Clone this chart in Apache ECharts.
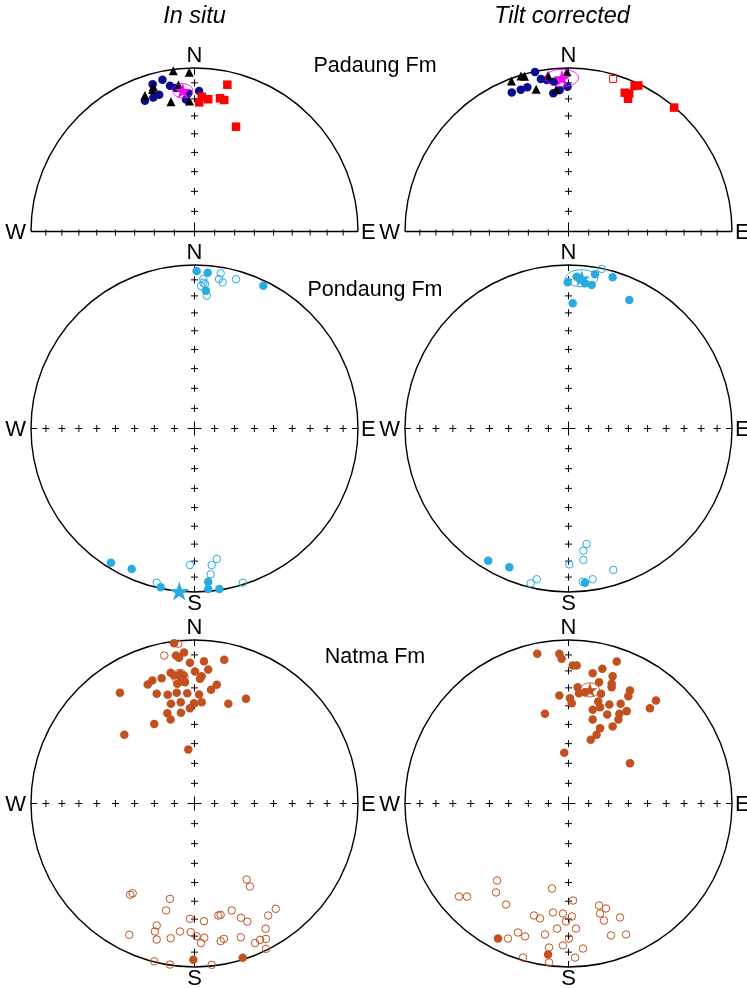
<!DOCTYPE html>
<html>
<head>
<meta charset="utf-8">
<script src="https://cdn.jsdelivr.net/npm/echarts@6/dist/echarts.min.js"></script>
<style>
html,body{margin:0;padding:0;background:#fff;}
#chart{width:747px;height:988px;}
</style>
</head>
<body>
<div id="chart"></div>
<script>
// ---------- DATA (equal-area projection coordinates, % of primitive radius; x = East, y = North) ----------
const tickInclinations = [10, 20, 30, 40, 50, 60, 70, 80];
const columnTitles = ['In situ', 'Tilt corrected'];
const formationNames = ['Padaung Fm', 'Pondaung Fm', 'Natma Fm'];

// Padaung Fm - in situ
const padaungInSituCircles = [[-19.6,92.8],[-25.6,90.1],[-15.0,89.1],[-21.6,83.7],[-25.2,82.0],[-30.3,79.9],[-3.8,84.5],[2.8,85.9],[-5.2,80.7],[-11.3,87.8]];
const padaungInSituTriangles = [[-13.0,98.3],[-3.2,97.4],[-25.2,88.7],[-25.6,86.9],[-30.3,83.2],[-14.4,79.4],[-3.1,79.8],[-9.8,89.6]];
const padaungInSituSquares = [[20.1,89.8],[4.4,82.4],[2.9,79.0],[8.4,80.9],[15.6,81.5],[18.2,80.4],[25.4,64.1]];
const padaungInSituMean = [[-7.2,86.1,6.1,4.3]];

// Padaung Fm - tilt corrected
const padaungTiltCircles = [[-20.5,97.6],[-34.7,85.0],[-29.2,86.7],[-25.2,88.2],[-16.9,93.2],[-13.3,92.7],[-8.9,91.6],[-5.4,86.5],[-9.3,84.5],[-0.6,88.6]];
const padaungTiltTriangles = [[-34.9,92.0],[-29.1,95.1],[-26.9,94.9],[-19.8,87.0],[-12.5,95.4],[-7.6,86.7],[-0.9,97.7]];
const padaungTiltSquares = [[40.4,89.0],[42.7,89.3],[34.4,84.9],[37.1,84.3],[36.4,81.2],[64.6,75.8]];
const padaungTiltOpenSquares = [[27.3,93.3]];
const padaungTiltMean = [[-4.0,93.9,10.1,5.3]];

// Pondaung Fm - in situ
const pondaungInSituFilled = [[1.3,96.3],[8.1,95.3],[42.1,87.3],[7.0,84.3],[-51.1,-82.1],[-38.4,-85.9],[-20.7,-97.1],[8.4,-93.7],[8.4,-98.2],[15.2,-98.2]];
const pondaungInSituOpen = [[16.0,94.9],[15.0,91.4],[17.2,89.4],[25.4,91.3],[5.4,91.4],[5.4,89.2],[4.0,87.2],[6.4,88.4],[7.5,81.2],[-2.8,-83.5],[13.6,-79.8],[10.5,-83.5],[9.9,-89.2],[-23.1,-94.3],[29.5,-94.3]];
const pondaungInSituMean = [[-9.3,-99.4]];

// Pondaung Fm - tilt corrected
const pondaungTiltFilled = [[-0.5,89.4],[16.2,94.3],[27.0,92.5],[37.2,78.6],[2.6,76.6],[14.2,87.8],[5.0,92.8],[10.1,88.8],[7.0,91.4],[-49.1,-80.9],[-36.2,-84.9],[10.1,-94.3]];
const pondaungTiltOpen = [[20.3,97.6],[11.1,-70.6],[9.1,-74.7],[9.1,-80.4],[0.5,-83.1],[27.4,-86.5],[14.8,-92.2],[8.7,-93.7],[-19.4,-92.2],[-23.1,-94.7]];
const pondaungTiltMean = [[8.1,91.9,9.8,5.2]];

// Natma Fm - in situ
const natmaInSituFilled = [[-12.5,98.0],[-6.4,92.4],[-11.3,90.5],[-9.5,89.1],[-2.8,86.1],[5.8,87.0],[18.2,87.9],[0.3,80.7],[8.4,82.0],[4.4,77.9],[3.4,76.3],[-14.6,79.9],[-12.5,78.3],[-8.9,79.3],[-6.9,78.3],[-20.1,76.6],[-25.8,75.2],[-28.6,72.8],[-5.8,74.2],[-10.5,73.2],[13.6,72.6],[10.1,69.5],[-45.6,67.7],[-23.1,67.1],[-16.4,66.5],[-10.9,67.7],[-4.4,67.5],[2.8,66.7],[-0.3,61.3],[4.4,62.0],[-8.4,62.0],[-14.4,61.0],[20.7,61.0],[31.5,64.0],[-2.8,58.3],[-16.6,55.2],[-8.3,55.5],[-14.6,51.4],[-24.6,48.7],[-42.9,42.0],[-3.8,33.0],[-0.7,-95.6],[29.5,-94.4]];
const natmaInSituOpen = [[-9.9,97.7],[-18.5,90.5],[-39.4,-55.8],[-37.8,-54.9],[-15.0,-58.3],[-17.4,-65.4],[31.9,-46.5],[33.9,-50.8],[14.6,-68.5],[16.0,-68.1],[22.8,-65.4],[28.4,-69.9],[32.3,-72.2],[49.7,-64.4],[45.1,-68.5],[-2.8,-70.5],[5.8,-72.0],[-23.1,-74.6],[-24.2,-78.3],[-39.9,-80.3],[-23.1,-83.2],[-14.6,-82.4],[-8.9,-78.3],[-2.3,-78.7],[1.3,-81.2],[6.0,-82.1],[4.0,-85.4],[16.0,-84.2],[18.0,-82.8],[28.3,-81.8],[43.5,-76.6],[43.7,-82.8],[40.1,-83.4],[37.0,-85.4],[43.7,-88.9],[-24.6,-96.5],[-15.0,-98.5],[10.5,-98.7]];
const natmaInSituMean = [[-8.9,77.2,4.9,4.9]];

// Natma Fm - tilt corrected
const natmaTiltFilled = [[-19.1,91.6],[-5.6,91.6],[-4.2,88.5],[2.6,84.4],[5.0,84.4],[29.5,86.9],[20.7,82.4],[14.8,79.7],[27.0,77.9],[26.4,73.2],[26.4,71.1],[18.7,74.2],[5.6,71.1],[10.1,68.1],[6.4,67.5],[19.9,67.1],[37.6,69.1],[36.6,65.6],[-5.6,66.1],[0.9,64.4],[2.0,61.3],[18.2,62.4],[19.3,58.9],[25.0,60.6],[31.9,61.0],[53.5,63.0],[49.8,58.3],[35.6,56.5],[14.8,57.3],[23.7,54.4],[31.1,54.9],[30.5,51.4],[14.8,51.4],[27.0,47.1],[19.3,46.1],[17.2,42.0],[13.6,39.0],[-14.4,54.9],[-2.6,31.0],[37.6,24.6],[-43.1,-82.6],[-12.5,-92.4]];
const natmaTiltOpen = [[-67.0,-56.9],[-62.1,-56.9],[-43.7,-47.1],[-44.3,-54.4],[-38.2,-61.8],[-21.1,-68.5],[-17.4,-70.3],[-10.1,-52.0],[-9.5,-66.7],[-3.4,-67.3],[2.8,-59.3],[2.1,-69.1],[-1.5,-72.2],[-7.0,-76.5],[0.3,-82.6],[4.6,-76.5],[18.7,-62.4],[22.9,-64.2],[19.3,-67.3],[21.7,-71.6],[31.5,-69.7],[26.0,-80.7],[35.2,-80.1],[-37.0,-82.6],[-30.9,-78.9],[-26.6,-81.3],[-14.4,-80.1],[-11.9,-88.1],[-3.4,-86.8],[8.9,-88.7],[-27.8,-94.2],[-11.9,-97.2],[4.0,-94.2]];
const natmaTiltMean = [[13.1,69.5,5.8,4.3]];

// ---------- LAYOUT ----------
const R = 163.5;
const centers = [[194.5,231.5],[568.5,231.5],[194.5,428.5],[568.5,428.5],[194.5,803.5],[568.5,803.5]];
const FONT = '"Liberation Sans", Arial, Helvetica, sans-serif';
const C_NAVY = '#0c0c8e', C_RED = '#ff0000', C_MAG = '#ff00ff', C_SKY = '#29abe2', C_ORG = '#c1511f';
const STAR = 'path://M50,0 L61.8,35.1 L97.6,35.1 L68.5,56.7 L79.4,90.5 L50,69.1 L20.6,90.5 L31.5,56.7 L2.4,35.1 L38.2,35.1 Z';

function eaRadius(inc){ return Math.SQRT2 * Math.sin((90 - inc) / 2 * Math.PI / 180) * 100; }

function txt(ch, s, x, y, align, valign){
  ch.push({type:'text', x:x, y:y, style:{text:s, fill:'#000', fontSize:22, fontFamily:FONT,
    align:align, textAlign:align, verticalAlign:valign, textVerticalAlign:valign}});
}

function frameRender(half){
  return function(params, api){
    const c = api.coord([0,0]);
    const r0 = api.size([100,100])[0];
    const cx = c[0], cy = c[1];
    const ch = [];
    const ln = (x1,y1,x2,y2,w) => ch.push({type:'line', shape:{x1:x1,y1:y1,x2:x2,y2:y2}, style:{stroke:'#000', lineWidth:w||1}});
    const plus = (x,y,s) => { ln(x-s,y,x+s,y); ln(x,y-s,x,y+s); };
    if (half){
      ch.push({type:'arc', shape:{cx:cx, cy:cy, r:r0, startAngle:Math.PI, endAngle:2*Math.PI}, style:{stroke:'#000', lineWidth:1.4, fill:'none'}});
      ln(cx-r0, cy, cx+r0, cy, 1.4);
      tickInclinations.forEach(inc => {
        const d = eaRadius(inc)/100*r0;
        ln(cx-d, cy-2, cx-d, cy+4);
        ln(cx+d, cy-2, cx+d, cy+4);
        plus(cx, cy-d, 3.5);
      });
      ln(cx, cy-9, cx, cy+5);
      ln(cx, cy-r0, cx, cy-r0+7);
      txt(ch, 'N', cx, cy-r0-12, 'center', 'middle');
      txt(ch, 'W', cx-r0-5, cy+1, 'right', 'middle');
      txt(ch, 'E', cx+r0+3, cy+1, 'left', 'middle');
    } else {
      ch.push({type:'circle', shape:{cx:cx, cy:cy, r:r0}, style:{stroke:'#000', lineWidth:1.4, fill:'none'}});
      tickInclinations.forEach(inc => {
        const d = eaRadius(inc)/100*r0;
        plus(cx, cy-d, 3.5); plus(cx, cy+d, 3.5);
        plus(cx-d, cy, 3.5); plus(cx+d, cy, 3.5);
      });
      plus(cx, cy, 7);
      ln(cx, cy-r0, cx, cy-r0+6);
      ln(cx, cy+r0, cx, cy+r0-6);
      ln(cx-r0, cy, cx-r0+6, cy);
      ln(cx+r0, cy, cx+r0-6, cy);
      txt(ch, 'N', cx, cy-r0-12, 'center', 'middle');
      txt(ch, 'S', cx, cy+r0+12, 'center', 'middle');
      txt(ch, 'W', cx-r0-5, cy+1, 'right', 'middle');
      txt(ch, 'E', cx+r0+3, cy+1, 'left', 'middle');
    }
    return {type:'group', children:ch};
  };
}

function ellipseRender(color){
  return function(params, api){
    const x = api.value(0), y = api.value(1), a = api.value(2), b = api.value(3);
    const pts = [];
    for (let k = 0; k < 72; k++){
      const t = k/72*2*Math.PI;
      pts.push(api.coord([x + a*Math.cos(t), y + b*Math.sin(t)]));
    }
    return {type:'polygon', shape:{points:pts}, style:{stroke:color, lineWidth:1, fill:'none'}};
  };
}

const series = [];
function frame(i, half){
  series.push({type:'custom', xAxisIndex:i, yAxisIndex:i, data:[[0,0]], renderItem:frameRender(half), silent:true, z:1, clip:false});
}
function pts(i, data, symbol, size, fill, stroke, z){
  series.push({type:'scatter', xAxisIndex:i, yAxisIndex:i, data:data, symbol:symbol, symbolSize:size, symbolKeepAspect:true,
    itemStyle:{color:fill, borderColor:stroke, borderWidth: fill === 'none' ? 1 : 0, opacity:1}, z:z||3, clip:false, silent:true});
}
function ell(i, data, color){
  series.push({type:'custom', xAxisIndex:i, yAxisIndex:i, data:data, renderItem:ellipseRender(color), silent:true, z:5, clip:false});
}

frame(0, true); frame(1, true);
frame(2, false); frame(3, false); frame(4, false); frame(5, false);

pts(0, padaungInSituCircles, 'circle', 8.5, C_NAVY, C_NAVY);
pts(0, padaungInSituTriangles, 'triangle', 9, '#000', '#000');
pts(0, padaungInSituSquares, 'rect', 8.5, C_RED, C_RED);
ell(0, padaungInSituMean, C_MAG);
pts(0, padaungInSituMean.map(d => [d[0], d[1]]), STAR, 16, C_MAG, C_MAG, 6);

pts(1, padaungTiltCircles, 'circle', 8.5, C_NAVY, C_NAVY);
pts(1, padaungTiltTriangles, 'triangle', 9, '#000', '#000');
pts(1, padaungTiltSquares, 'rect', 8.5, C_RED, C_RED);
pts(1, padaungTiltOpenSquares, 'rect', 7, 'none', C_RED);
ell(1, padaungTiltMean, C_MAG);
pts(1, padaungTiltMean.map(d => [d[0], d[1]]), STAR, 17, C_MAG, C_MAG, 6);

pts(2, pondaungInSituOpen, 'circle', 7.5, 'none', C_SKY);
pts(2, pondaungInSituFilled, 'circle', 8.5, C_SKY, C_SKY);
pts(2, pondaungInSituMean, STAR, 20, C_SKY, C_SKY, 6);

pts(3, pondaungTiltOpen, 'circle', 7.5, 'none', C_SKY);
pts(3, pondaungTiltFilled, 'circle', 8.5, C_SKY, C_SKY);
ell(3, pondaungTiltMean, C_SKY);
pts(3, pondaungTiltMean.map(d => [d[0], d[1]]), STAR, 17, C_SKY, C_SKY, 6);

pts(4, natmaInSituOpen, 'circle', 7.5, 'none', C_ORG);
pts(4, natmaInSituFilled, 'circle', 8.5, C_ORG, C_ORG);
ell(4, natmaInSituMean, C_ORG);
pts(4, natmaInSituMean.map(d => [d[0], d[1]]), STAR, 15, C_ORG, C_ORG, 6);

pts(5, natmaTiltOpen, 'circle', 7.5, 'none', C_ORG);
pts(5, natmaTiltFilled, 'circle', 8.5, C_ORG, C_ORG);
ell(5, natmaTiltMean, C_ORG);
pts(5, natmaTiltMean.map(d => [d[0], d[1]]), STAR, 15, C_ORG, C_ORG, 6);

const grids = centers.map(c => ({left:c[0]-R, top:c[1]-R, width:2*R, height:2*R, containLabel:false, show:false}));
const axis = i => ({type:'value', gridIndex:i, min:-100, max:100, show:false});

function label(s, x, y, size, italic){
  return {type:'text', x:x, y:y, style:{text:s, fontSize:size, fontStyle: italic ? 'italic' : 'normal', fontFamily:FONT, fill:'#000',
    align:'center', textAlign:'center', verticalAlign:'middle', textVerticalAlign:'middle'}};
}
const graphicTexts = [
  label(columnTitles[0], 194.5, 16, 23.5, true),
  label(columnTitles[1], 562, 16, 23.5, true),
  label(formationNames[0], 375, 66, 21.5, false),
  label(formationNames[1], 375, 290, 21.5, false),
  label(formationNames[2], 375, 657, 21.5, false)
];

const chart = echarts.init(document.getElementById('chart'), null, {renderer:'canvas'});
chart.setOption({
  animation:false,
  backgroundColor:'#ffffff',
  grid:grids,
  xAxis:centers.map((c,i) => axis(i)),
  yAxis:centers.map((c,i) => axis(i)),
  graphic:graphicTexts,
  series:series
});
</script>
</body>
</html>
